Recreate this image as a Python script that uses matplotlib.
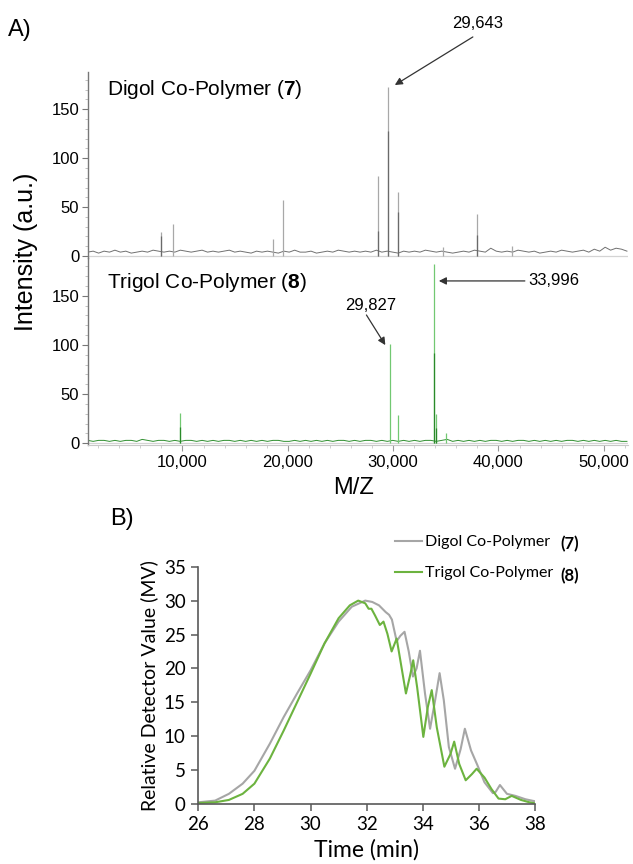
import numpy as np
import matplotlib
matplotlib.use("Agg")
import matplotlib.pyplot as plt
from matplotlib.ticker import MultipleLocator, FuncFormatter, FixedLocator

plt.rcParams['font.family'] = ['Liberation Sans', 'DejaVu Sans']
plt.rcParams['mathtext.fontset'] = 'custom'
plt.rcParams['mathtext.rm'] = 'Liberation Sans'
plt.rcParams['mathtext.bf'] = 'Liberation Sans:bold'

# ---------------- Panel A data (MALDI spectra) ----------------
digol_noise = [4, 5, 3, 5, 4, 6, 4, 5, 3, 4, 5, 4, 6, 5, 4, 5, 4, 6, 5, 4,
               5, 6, 4, 5, 4, 5, 6, 4, 5, 4, 3, 5, 4, 5, 4, 3, 5, 4, 6, 4,
               4, 5, 3, 4, 5, 4, 6, 5, 4, 5, 4, 5, 4, 6, 4, 5, 4, 3, 5, 4,
               5, 4, 6, 5, 4, 5, 4, 3, 4, 5, 4, 6, 5, 4, 8, 5, 4, 5, 4, 6,
               5, 4, 5, 3, 4, 5, 4, 6, 5, 4, 5, 6, 4, 7, 5, 9, 6, 8, 7, 5]
trigol_noise = [3, 2, 3, 3, 2, 3, 2, 3, 3, 2, 4, 3, 2, 3, 3, 2, 3, 2, 3, 3,
                2, 3, 2, 3, 2, 3, 3, 2, 3, 2, 3, 2, 3, 2, 3, 3, 2, 2, 3, 2,
                3, 2, 3, 2, 3, 2, 3, 3, 2, 3, 2, 3, 3, 2, 3, 2, 3, 2, 3, 2,
                3, 2, 3, 3, 2, 3, 4, 2, 3, 2, 3, 2, 3, 2, 3, 3, 2, 3, 2, 3,
                3, 2, 3, 2, 3, 2, 3, 2, 3, 3, 2, 3, 2, 3, 2, 3, 2, 3, 2, 2]
noise_mz_range = (1000, 52200)

digol_peak_mz = [8000, 9100, 18600, 19500, 28600, 29550, 30420, 38000, 34700, 41300]
digol_peak_int = [25, 33, 17, 57, 82, 173, 65, 43, 9, 10]
digol_peak_inner = [20, 0, 0, 0, 26, 128, 45, 22, 0, 0]

trigol_peak_mz = [9790, 29700, 30450, 33850, 34050, 35000]
trigol_peak_int = [31, 101, 29, 182, 30, 11]
trigol_peak_inner = [17, 0, 0, 92, 16, 0]

mz_ticks = [10000, 20000, 30000, 40000, 50000]
int_ticks = [0, 50, 100, 150]

# ---------------- Panel B data (GPC traces) ----------------
digol_t = [26.0, 26.6, 27.09, 27.58, 28.0, 28.55, 29.04, 29.52, 30.0, 30.5,
           31.0, 31.47, 31.95, 32.2, 32.44, 32.68, 32.8, 32.9, 33.07, 33.2,
           33.35, 33.5, 33.65, 33.78, 33.9, 34.08, 34.26, 34.44, 34.6, 34.75,
           34.93, 35.15, 35.35, 35.5, 35.72, 35.94, 36.2, 36.5, 36.6, 36.75,
           37.0, 37.3, 37.66, 38.0]
digol_v = [0.25, 0.5, 1.5, 3.0, 4.9, 8.9, 12.8, 16.3, 19.7, 23.7,
           26.9, 29.1, 30.0, 29.8, 29.3, 28.3, 27.9, 27.2, 24.0, 24.8,
           25.4, 22.5, 18.8, 20.0, 22.6, 16.3, 11.1, 15.3, 19.3, 15.3,
           8.4, 5.2, 8.1, 11.1, 7.9, 5.8, 3.2, 1.6, 1.8, 2.8,
           1.5, 1.2, 0.7, 0.4]
trigol_t = [26.0, 26.6, 27.09, 27.58, 28.0, 28.55, 29.04, 29.52, 30.0, 30.5,
            31.0, 31.4, 31.7, 31.95, 32.07, 32.17, 32.3, 32.47, 32.6, 32.74,
            32.89, 33.07, 33.2, 33.4, 33.55, 33.66, 33.8, 34.02, 34.18, 34.32,
            34.5, 34.77, 34.99, 35.12, 35.3, 35.53, 35.75, 35.92, 36.2, 36.45,
            36.7, 36.94, 37.17, 37.5, 37.8, 38.0]
trigol_v = [0.15, 0.25, 0.6, 1.5, 3.0, 6.7, 10.8, 15.0, 19.2, 23.7,
            27.4, 29.3, 30.0, 29.6, 28.8, 28.8, 27.8, 26.4, 26.9, 25.1,
            22.5, 24.4, 21.2, 16.3, 19.0, 21.2, 17.2, 9.9, 14.3, 16.8,
            11.3, 5.5, 7.4, 9.2, 5.9, 3.5, 4.4, 5.2, 3.9, 2.2,
            0.8, 0.7, 1.2, 0.6, 0.25, 0.1]
legend_labels = ["Digol Co-Polymer", "Trigol Co-Polymer"]
legend_nums = ["(7)", "(8)"]

# ---------------- Figure ----------------
W, H = 633, 864
fig = plt.figure(figsize=(W / 100, H / 100), dpi=100)


def rect(l, t, r, b):
    return [l / W, 1 - b / H, (r - l) / W, (b - t) / H]


axT = fig.add_axes(rect(87.7, 72, 628, 258))
axB = fig.add_axes(rect(87.7, 258, 628, 445))
axC = fig.add_axes(rect(198.3, 566.7, 535, 804))

comma = FuncFormatter(lambda v, p: f"{int(v):,}")


def spectrum(ax, noise, pmz, pint, pinner, c_noise, c_peak, c_inner, ylim):
    xs = np.linspace(noise_mz_range[0], noise_mz_range[1], len(noise))
    ax.axhline(0, color='#d4d4d4', lw=0.9, zorder=1)
    ax.plot(xs, noise, color=c_noise, lw=0.7, zorder=2)
    ax.vlines(pmz, 0, pint, color=c_peak, lw=0.9, zorder=3)
    inner_mz = [m for m, v in zip(pmz, pinner) if v > 0]
    inner_v = [v for v in pinner if v > 0]
    ax.vlines(inner_mz, 0, inner_v, color=c_inner, lw=0.9, zorder=4)
    ax.set_xlim(1000, 52300)
    ax.set_ylim(*ylim)
    for s in ['top', 'right']:
        ax.spines[s].set_visible(False)
    ax.spines['left'].set_color('#777777')
    ax.spines['left'].set_linewidth(1.0)
    ax.yaxis.set_major_locator(FixedLocator(int_ticks))
    ax.yaxis.set_minor_locator(MultipleLocator(10))
    ax.tick_params(axis='y', which='major', length=4, width=0.8, color='#777777',
                   labelsize=12, pad=2)
    ax.tick_params(axis='y', which='minor', length=2, width=0.5, color='#aaaaaa')
    ax.patch.set_alpha(0)


spectrum(axT, digol_noise, digol_peak_mz, digol_peak_int, digol_peak_inner,
         '#707070', '#a8a8a8', '#6a6a6a', (-2, 188))
axT.spines['bottom'].set_visible(False)
axT.set_xticks([])

spectrum(axB, trigol_noise, trigol_peak_mz, trigol_peak_int, trigol_peak_inner,
         '#2f8f2f', '#72c872', '#2a8a2a', (-1.7, 188.3))
axB.spines['bottom'].set_color('#c8c8c8')
axB.xaxis.set_major_locator(FixedLocator(mz_ticks))
axB.xaxis.set_minor_locator(MultipleLocator(2000))
axB.xaxis.set_major_formatter(comma)
axB.tick_params(axis='x', which='major', length=4, width=0.8, color='#999999',
                labelsize=12, pad=3)
axB.tick_params(axis='x', which='minor', length=2, width=0.5, color='#bbbbbb')

fig.text(107 / W, 1 - 95 / H, r"Digol Co-Polymer ($\mathbf{7}$)", fontsize=15,
         ha='left', va='baseline')
fig.text(107 / W, 1 - 288 / H, r"Trigol Co-Polymer ($\mathbf{8}$)", fontsize=15,
         ha='left', va='baseline')

arrow_kw = dict(arrowstyle='-|>', color='#333333', lw=0.9, mutation_scale=11,
                shrinkA=0, shrinkB=0)
# 29,643 annotation (top)
axT.annotate('', xy=(30161, 174.7), xytext=(37569, 223.8), arrowprops=arrow_kw,
             annotation_clip=False)
axT.text(38043, 238, "29,643", ha='center', va='center', fontsize=12, clip_on=False)
# 29,827 annotation (bottom)
axB.annotate('', xy=(29259, 99.8), xytext=(27464, 130.4), arrowprops=arrow_kw,
             annotation_clip=False)
axB.text(27844, 140.5, "29,827", ha='center', va='center', fontsize=12)
# 33,996 annotation (bottom)
axB.annotate('', xy=(34340, 165), xytext=(42507, 165), arrowprops=arrow_kw,
             annotation_clip=False)
axB.text(42800, 165, "33,996", ha='left', va='center', fontsize=12)

fig.text(26 / W, 1 - 252 / H, "Intensity (a.u.)", rotation=90, ha='center',
         va='center', fontsize=18)
fig.text(354 / W, 1 - 488 / H, "M/Z", ha='center', va='center', fontsize=17)
fig.text(8 / W, 1 - 30 / H, "A)", ha='left', va='center', fontsize=17)
fig.text(110 / W, 1 - 519 / H, "B)", ha='left', va='center', fontsize=17)

# ---------------- Panel B ----------------
bfont = ['Lato', 'DejaVu Sans']
l1, = axC.plot(digol_t, digol_v, color='#a6a6a6', lw=1.5, label=legend_labels[0])
l2, = axC.plot(trigol_t, trigol_v, color='#6cb33f', lw=1.5, label=legend_labels[1])
axC.set_xlim(26, 38)
axC.set_ylim(0, 35)
axC.xaxis.set_major_locator(MultipleLocator(2))
axC.yaxis.set_major_locator(MultipleLocator(5))
for s in ['top', 'right']:
    axC.spines[s].set_visible(False)
for s in ['left', 'bottom']:
    axC.spines[s].set_color('#595959')
    axC.spines[s].set_linewidth(1.2)
axC.tick_params(length=5, width=1.1, color='#595959', labelsize=13.5, pad=4)
for lab in axC.get_xticklabels() + axC.get_yticklabels():
    lab.set_family(bfont)
axC.set_xlabel("Time (min)", fontsize=16.5, family=bfont, labelpad=4)
axC.set_ylabel("Relative Detector Value (MV)", fontsize=14, family=bfont, labelpad=4)

leg = axC.legend(handles=[l1, l2], loc='upper left',
                 bbox_to_anchor=(395 / W, 1 - 535 / H), bbox_transform=fig.transFigure,
                 frameon=False, borderpad=0, borderaxespad=0, handlelength=1.7,
                 handletextpad=0.2, labelspacing=1.05,
                 prop={'family': bfont, 'size': 11.5})
fig.text(560 / W, 1 - 544 / H, legend_nums[0], fontsize=12, family=bfont,
         fontweight='bold', ha='left', va='center')
fig.text(560 / W, 1 - 576 / H, legend_nums[1], fontsize=12, family=bfont,
         fontweight='bold', ha='left', va='center')

fig.savefig("out.png", dpi=100)
